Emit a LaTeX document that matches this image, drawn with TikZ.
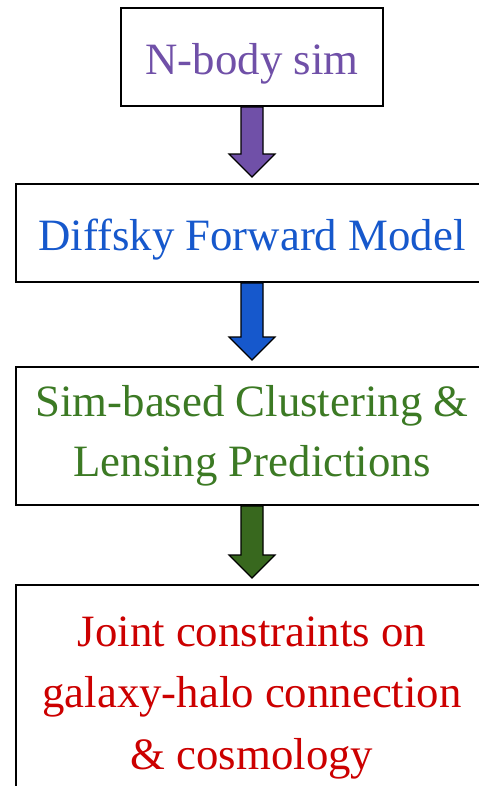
\documentclass[tikz,border=0pt]{standalone}
\usepackage{fontspec}
\setmainfont{Liberation Serif}
\usetikzlibrary{calc}

\definecolor{simpurple}{RGB}{112,80,168}
\definecolor{diffblue}{RGB}{22,88,204}
\definecolor{predgreen}{RGB}{60,122,36}
\definecolor{arrgreen}{RGB}{56,104,30}
\definecolor{conred}{RGB}{204,0,0}

% fat block arrow from the bottom of one box down to the next
\newcommand{\blockarrow}[3]{%
  \filldraw[fill=#3,draw=black,line width=0.7pt,line join=miter]
    ($(#1.south)+(-11,0)$) -- ($(#1.south)+(11,0)$)
    -- ($(#2.north)+(11,-29)$) -- ($(#2.north)+(23,-29)$)
    -- ($(#2.north)+(0,-6)$)
    -- ($(#2.north)+(-23,-29)$) -- ($(#2.north)+(-11,-29)$) -- cycle;
}

\begin{document}
\begin{tikzpicture}[x=0.02cm,y=-0.02cm]
\tikzstyle{stage} = [draw,line width=1.1pt,fill=white,align=center,
  inner sep=0pt,font=\fontsize{25.5}{34}\selectfont]
  \clip (0,0) rectangle (479,786);
  \fill[white] (0,0) rectangle (479,786);

  \node[stage,minimum width=5.24cm,minimum height=1.96cm,text=simpurple,
    text height=25pt]
    (nbody) at (252,57) {N-body sim};
  \node[stage,minimum width=9.44cm,minimum height=1.96cm,text=diffblue,
    text height=25pt]
    (diffsky) at (252,233) {Diffsky Forward Model};
  \node[stage,minimum width=9.44cm,minimum height=2.76cm,text=predgreen]
    (preds) at (252,436) {Sim-based Clustering \&\\Lensing Predictions};
  \node[stage,minimum width=9.44cm,minimum height=4.52cm,text=conred,anchor=north,
    font=\fontsize{25.5}{35}\selectfont]
    (joint) at (252,584) {Joint constraints on\\galaxy-halo connection\\\& cosmology};

  \blockarrow{nbody}{diffsky}{simpurple}
  \blockarrow{diffsky}{preds}{diffblue}
  \blockarrow{preds}{joint}{arrgreen}
\end{tikzpicture}
\end{document}
